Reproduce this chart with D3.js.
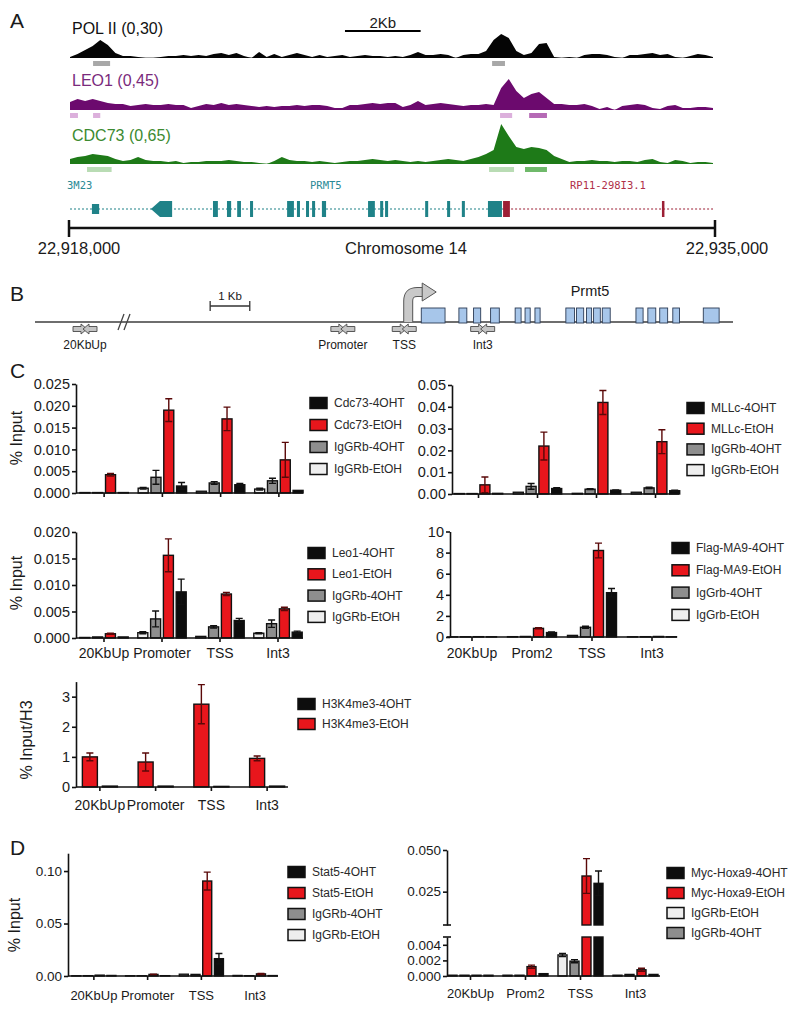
<!DOCTYPE html>
<html>
<head>
<meta charset="utf-8">
<script src="https://cdn.jsdelivr.net/npm/d3@7"></script>
<style>
  body { margin: 0; background: #fff; }
  text { font-family: "Liberation Sans", Arial, sans-serif; fill: #1a1a1a; }
  .mono { font-family: "DejaVu Sans Mono", monospace; }
  .narrow { font-family: "Liberation Sans Narrow", "Liberation Sans", sans-serif; }
</style>
</head>
<body>
<svg id="fig" width="800" height="1012"></svg>
<script>
// ---- A: ChIP-seq tracks, 200 bp bins over chr14:22,918,000-22,935,000
const winStart = 22918000
const winEnd = 22935000
const binBp = 200
const polII = [1,4,8,12,18,13,5,2,2,1, 0,0,1,2,2,3,2,3,2,4, 5,3,5,2,0,6,1,4,1,3,
  5,3,1,3,1,2,3,1,2,3, 2,2,1,2,1,3,6,3,3,4, 3,0,3,4,4,7,18,24,20,7,
  3,5,14,15,1,0,1,0,3,4, 4,3,1,0,3,3,4,5,3,4, 1,0,2,4,3,1]
const leo1 = [8,11,9,11,9,7,6,6,4,5, 6,5,5,6,5,5,2,4,6,5, 7,5,6,5,4,3,4,3,4,4,
  5,4,5,5,4,2,2,5,5,6, 7,6,7,7,3,5,9,5,6,7, 6,5,4,5,5,6,5,22,31,19,
  12,16,18,12,6,6,5,5,6,4, 1,3,0,4,5,6,5,2,1,4, 5,2,2,3,3,2]
const cdc73 = [5,7,8,10,9,8,5,3,4,7, 4,3,3,2,3,1,2,2,3,3, 3,4,3,2,2,1,0,3,7,4,
  3,3,2,3,2,1,2,3,3,4, 5,4,3,4,3,2,3,2,3,4, 5,4,3,5,7,10,14,40,28,17,
  15,17,16,14,8,5,2,3,3,4, 3,3,2,3,3,2,4,5,2,1, 4,3,1,2,2,1]
// called peaks: [start, end, strong]
const polIIPeaks = [[22918610, 22919060, 0], [22929160, 22929500, 0]]
const leo1Peaks = [[22918000, 22918210, 0], [22918610, 22918800, 0], [22929370, 22929690, 0], [22930140, 22930610, 1]]
const cdc73Peaks = [[22918450, 22919100, 0], [22929080, 22929740, 0], [22930030, 22930610, 1]]
// gene models: [start, end, kind]  u = utr, c = coding, a = arrow end
const prmt5Exons = [[22918580, 22918770, 'u'], [22920140, 22920700, 'a'],
  [22921780, 22921910, 'c'], [22922150, 22922260, 'c'], [22922420, 22922520, 'c'], [22922760, 22922840, 'c'],
  [22923740, 22923920, 'c'], [22924000, 22924080, 'c'], [22924240, 22924320, 'c'], [22924400, 22924480, 'c'],
  [22924660, 22924770, 'c'], [22925880, 22926060, 'c'], [22926200, 22926280, 'c'], [22926330, 22926410, 'c'],
  [22927390, 22927470, 'c'], [22927970, 22928050, 'c'], [22928360, 22928440, 'c'], [22929050, 22929420, 'c']]
const rp11Exons = [[22929450, 22929630, 'c'], [22933650, 22933700, 'c']]
const prmt5End = 22929450

// ---- B: primer map, kb from the Prmt5 TSS
const primerSites = ['20KbUp', 'Promoter', 'TSS', 'Int3']
const primerKb = [-20, -1.65, -0.1, 1.88]
const schemeExons = [[0.33, 0.93], [1.28, 1.48], [1.65, 1.83], [2.08, 2.3], [2.7, 2.85], [2.95, 3.08],
  [3.2, 3.33], [3.98, 4.2], [4.25, 4.43], [4.5, 4.63], [4.68, 4.85], [4.9, 5.1], [5.75, 5.93],
  [6.05, 6.25], [6.35, 6.55], [6.68, 6.85], [7.45, 7.85]]

// ---- C / D: ChIP-qPCR
const sites = ['20KbUp', 'Promoter', 'TSS', 'Int3']
const sites2 = ['20KbUp', 'Prom2', 'TSS', 'Int3']

const cdc73Names = ['Cdc73-4OHT', 'Cdc73-EtOH', 'IgGRb-4OHT', 'IgGRb-EtOH']
const cdc73Means = [[0.0001, 0.0016, 0.0019, 0.0006], [0.0042, 0.019, 0.017, 0.0076],
  [0.0001, 0.0036, 0.0023, 0.0028], [0.0001, 0.0011, 0.0004, 0.0009]]
const cdc73Errs = [[0, 0.0008, 0.0003, 0], [0.0003, 0.0026, 0.0027, 0.004],
  [0, 0.0016, 0.0003, 0.0006], [0, 0.0002, 0, 0.0002]]

const mllNames = ['MLLc-4OHT', 'MLLc-EtOH', 'IgGRb-4OHT', 'IgGRb-EtOH']
const mllMeans = [[0.0003, 0.0025, 0.0017, 0.0015], [0.0042, 0.022, 0.042, 0.024],
  [0.0002, 0.0035, 0.0022, 0.0028], [0.0002, 0.0008, 0.0003, 0.0008]]
const mllErrs = [[0, 0.0004, 0.0002, 0.0003], [0.0036, 0.0064, 0.0055, 0.0055],
  [0, 0.0013, 0.0002, 0.0003], [0, 0, 0, 0]]

const leo1Names = ['Leo1-4OHT', 'Leo1-EtOH', 'IgGRb-4OHT', 'IgGRb-EtOH']
const leo1Means = [[0.0002, 0.0087, 0.0033, 0.0011], [0.0008, 0.0156, 0.0083, 0.0055],
  [0.0002, 0.0036, 0.0021, 0.0027], [0.0001, 0.001, 0.0003, 0.0009]]
const leo1Errs = [[0, 0.0024, 0.0004, 0.0002], [0.0001, 0.0031, 0.0003, 0.0003],
  [0, 0.0015, 0.0002, 0.0007], [0, 0.0002, 0, 0.0001]]

const flagNames = ['Flag-MA9-4OHT', 'Flag-MA9-EtOH', 'IgGrb-4OHT', 'IgGrb-EtOH']
const flagMeans = [[0.02, 0.42, 4.2, 0.02], [0.03, 0.82, 8.2, 0.05],
  [0.02, 0.05, 0.92, 0.03], [0.01, 0.03, 0.15, 0.02]]
const flagErrs = [[0, 0.05, 0.4, 0], [0, 0.05, 0.7, 0], [0, 0, 0.1, 0], [0, 0, 0, 0]]

const h3Names = ['H3K4me3-4OHT', 'H3K4me3-EtOH']
const h3Means = [[0.03, 0.03, 0.02, 0.03], [1.0, 0.83, 2.75, 0.95]]
const h3Errs = [[0, 0, 0, 0], [0.13, 0.3, 0.65, 0.08]]

const stat5Names = ['Stat5-4OHT', 'Stat5-EtOH', 'IgGRb-4OHT', 'IgGRb-EtOH']
const stat5Means = [[0.0005, 0.0003, 0.0165, 0.0004], [0.0008, 0.0015, 0.0905, 0.002],
  [0.0003, 0.0002, 0.0015, 0.0003], [0.0002, 0.0002, 0.0017, 0.0005]]
const stat5Errs = [[0, 0, 0.005, 0], [0, 0.0003, 0.0085, 0.0004], [0, 0, 0, 0], [0, 0, 0, 0]]

const hoxNames = ['Myc-Hoxa9-4OHT', 'Myc-Hoxa9-EtOH', 'IgGRb-EtOH', 'IgGRb-4OHT']
const hoxMeans = [[0.0001, 0.0003, 0.03, 0.0002], [0.0001, 0.0012, 0.0344, 0.0008],
  [0.0001, 0.0001, 0.0027, 0.0001], [0.0001, 0.0001, 0.0019, 0.0002]]
const hoxErrs = [[0, 0, 0.0074, 0], [0, 0.0002, 0.0104, 0.0002], [0, 0, 0.0002, 0], [0, 0, 0.0002, 0]]

const svg = d3.select('#fig')

const letter = (t, x, y) => svg.append('text').attr('x', x).attr('y', y)
  .attr('font-size', 21).text(t)

// ================= panel A =================
letter('A', 10, 28)
const gx = d3.scaleLinear().domain([winStart, winEnd]).range([70, 713])

const tracks = [
  { label: 'POL II (0,30)', vals: polII, max: 30, base: 58, color: '#050505', text: '#111', ly: 34,
    peaks: polIIPeaks, pcol: ['#a8a8a8', '#a8a8a8'], py: 61 },
  { label: 'LEO1 (0,45)', vals: leo1, max: 45, base: 110, color: '#6c0a6e', text: '#7a2a7c', ly: 86,
    peaks: leo1Peaks, pcol: ['#dcb0dc', '#b56ab5'], py: 113 },
  { label: 'CDC73 (0,65)', vals: cdc73, max: 65, base: 164, color: '#1e7a18', text: '#3c8a30', ly: 141,
    peaks: cdc73Peaks, pcol: ['#b9dcb4', '#6fb96a'], py: 167 }
]

tracks.forEach(t => {
  const y = d3.scaleLinear().domain([0, t.max]).range([t.base, t.base - t.max])
  const area = d3.area()
    .x((d, i) => gx(winStart + i * binBp))
    .y0(t.base)
    .y1(d => y(d))
  svg.append('line').attr('x1', gx(winStart)).attr('x2', gx(winEnd))
    .attr('y1', t.base - 0.5).attr('y2', t.base - 0.5)
    .attr('stroke', t.color).attr('stroke-opacity', 0.35)
  svg.append('path').datum(t.vals).attr('d', area).attr('fill', t.color)
  svg.append('text').attr('x', 72).attr('y', t.ly).attr('font-size', 16)
    .style('fill', t.text).text(t.label)
  svg.selectAll(null).data(t.peaks).join('rect')
    .attr('x', d => gx(d[0])).attr('width', d => gx(d[1]) - gx(d[0]))
    .attr('y', t.py).attr('height', 5)
    .attr('fill', d => t.pcol[d[2]])
})

// 2 Kb scale
const sb = 22925270
svg.append('line').attr('x1', gx(sb)).attr('x2', gx(sb + 2000)).attr('y1', 31).attr('y2', 31)
  .attr('stroke', '#000').attr('stroke-width', 2)
svg.append('text').attr('x', (gx(sb) + gx(sb + 2000)) / 2).attr('y', 28).attr('text-anchor', 'middle')
  .attr('font-size', 15).text('2Kb')

// gene models
const geneY = 209
const teal = '#1f8288'
const wine = '#9c1f35'
svg.append('line').attr('x1', gx(winStart)).attr('x2', gx(prmt5End)).attr('y1', geneY).attr('y2', geneY)
  .attr('stroke', teal).attr('stroke-width', 1.2).attr('stroke-dasharray', '2,2')
svg.append('line').attr('x1', gx(prmt5End)).attr('x2', gx(winEnd)).attr('y1', geneY).attr('y2', geneY)
  .attr('stroke', wine).attr('stroke-width', 1.2).attr('stroke-dasharray', '2,2')

const exonH = { u: 10, c: 16, a: 16 }
function exons(list, color) {
  list.forEach(([s, e, k]) => {
    const x0 = gx(s), x1 = gx(e), h = exonH[k]
    if (k === 'a') {
      svg.append('path')
        .attr('d', `M${x0},${geneY}L${x0 + 9},${geneY - h / 2}H${x1}V${geneY + h / 2}H${x0 + 9}Z`)
        .attr('fill', color)
    } else {
      svg.append('rect').attr('x', x0).attr('width', Math.max(2.5, x1 - x0))
        .attr('y', geneY - h / 2).attr('height', h).attr('fill', color)
    }
  })
}
exons(prmt5Exons, teal)
exons(rp11Exons, wine)

svg.append('text').attr('class', 'mono').attr('x', 67).attr('y', 189).attr('font-size', 10.5)
  .style('fill', '#2a8a96').text('3M23')
svg.append('text').attr('class', 'mono').attr('x', 310).attr('y', 189).attr('font-size', 10.5)
  .style('fill', '#2a8a96').text('PRMT5')
svg.append('text').attr('class', 'mono').attr('x', 570).attr('y', 189).attr('font-size', 10.5)
  .style('fill', '#b03048').text('RP11-298I3.1')

// chromosome ruler
const ruler = svg.append('g')
ruler.append('line').attr('x1', gx(winStart) - 1).attr('x2', gx(winEnd) + 2).attr('y1', 228).attr('y2', 228)
  .attr('stroke', '#111').attr('stroke-width', 2.5)
;[winStart, winEnd].forEach((p, i) => {
  const xx = gx(p) + (i ? 2 : -1)
  ruler.append('line').attr('x1', xx).attr('x2', xx).attr('y1', 220).attr('y2', 237)
    .attr('stroke', '#111').attr('stroke-width', 2.5)
  ruler.append('text').attr('x', i ? xx + 12 : xx + 10).attr('y', 254).attr('text-anchor', 'middle')
    .attr('font-size', 16.5).text(d3.format(',')(p))
})
ruler.append('text').attr('x', 406).attr('y', 254).attr('text-anchor', 'middle')
  .attr('font-size', 16.5).text('Chromosome 14')

// ================= panel B =================
letter('B', 10, 301)
const bx = d3.scaleLinear().domain([-21.25, -19, -7.15, 8.2]).range([35, 125, 125, 733])
const bLine = 322
svg.append('line').attr('x1', 35).attr('x2', 733).attr('y1', bLine).attr('y2', bLine)
  .attr('stroke', '#6e6e6e').attr('stroke-width', 2)
// break mark
;[-4, 2].forEach(o => svg.append('line').attr('x1', bx(-19) + o - 3).attr('x2', bx(-19) + o + 3)
  .attr('y1', bLine + 8).attr('y2', bLine - 8).attr('stroke', '#444').attr('stroke-width', 1.3))
// 1 Kb scale
const kb1 = [bx(-5), bx(-4)]
svg.append('line').attr('x1', kb1[0]).attr('x2', kb1[1]).attr('y1', 306).attr('y2', 306).attr('stroke', '#333').attr('stroke-width', 1.3)
kb1.forEach(xx => svg.append('line').attr('x1', xx).attr('x2', xx).attr('y1', 301).attr('y2', 311)
  .attr('stroke', '#333').attr('stroke-width', 1.3))
svg.append('text').attr('class', 'narrow').attr('x', (kb1[0] + kb1[1]) / 2).attr('y', 300)
  .attr('text-anchor', 'middle').attr('font-size', 11.5).text('1 Kb')

// exons
svg.selectAll(null).data(schemeExons).join('rect')
  .attr('x', d => bx(d[0])).attr('width', d => bx(d[1]) - bx(d[0]))
  .attr('y', 308).attr('height', 15)
  .attr('fill', '#a7c6ea').attr('stroke', '#2b3b55').attr('stroke-width', 0.9)
svg.append('text').attr('x', 590).attr('y', 296).attr('text-anchor', 'middle')
  .attr('font-size', 14.5).text('Prmt5')

// TSS arrow
const t0 = bx(0)
const bend = `M${t0},${bLine}V${301}Q${t0},${292} ${t0 + 9},${292}H${t0 + 15}`
svg.append('path').attr('d', bend).attr('fill', 'none').attr('stroke', '#555').attr('stroke-width', 10)
svg.append('path').attr('d', bend).attr('fill', 'none').attr('stroke', '#c9c9c9').attr('stroke-width', 8)
svg.append('path').attr('d', `M${t0 + 14},${283}L${t0 + 28},${292}L${t0 + 14},${301}Z`)
  .attr('fill', '#c9c9c9').attr('stroke', '#555').attr('stroke-width', 1)

// primer pairs
const primer = svg.append('g')
primerKb.forEach((k, i) => {
  const c = bx(k), y = 329
  const fwd = `M${c - 12},${y - 2.5}H${c - 4}V${y - 5}L${c + 2},${y}L${c - 4},${y + 5}V${y + 2.5}H${c - 12}Z`
  const rev = `M${c + 12},${y - 2.5}H${c + 4}V${y - 5}L${c - 2},${y}L${c + 4},${y + 5}V${y + 2.5}H${c + 12}Z`
  ;[fwd, rev].forEach(d => primer.append('path').attr('d', d)
    .attr('fill', '#c4c4c4').attr('stroke', '#4a4a4a').attr('stroke-width', 0.9))
  primer.append('text').attr('class', 'narrow').attr('x', c).attr('y', 349)
    .attr('text-anchor', 'middle').attr('font-size', 12).text(primerSites[i])
})

// ================= panels C / D =================
letter('C', 10, 378)
letter('D', 10, 855)

const fills = { k: '#0d0d0d', r: '#e8161c', g: '#8e8e8e', w: '#eeeeee' }

function styleAxis(sel, fs) {
  sel.selectAll('path, line').attr('stroke', '#111').attr('stroke-width', 1.6)
  sel.selectAll('text').attr('font-size', fs).style('fill', '#1a1a1a')
}

function barChart(c) {
  const g = svg.append('g')
  const x = d3.scaleBand().domain(c.sites).range(c.band)
  const n = c.order.length
  const cx = i => x(c.sites[i]) + x.bandwidth() / 2
  const yv = v => (!c.brk ? c.y(v) : v <= c.brk ? c.yLo(v) : c.yHi(v))
  const pieces = v => {
    if (!c.brk) return [[c.y(v), c.y(0)]]
    const p = [[c.yLo(Math.min(v, c.brk)), c.yLo(0)]]
    if (v > c.brk) p.push([c.yHi(v), c.yHi(c.brk)])
    return p
  }
  const base = c.brk ? c.yLo(0) : c.y(0)

  // bars
  const bars = c.order.flatMap((s, j) => c.means[s].map((v, i) => ({
    v, e: c.errs[s][i], k: c.kinds[s], x: cx(i) + (j - (n - 1) / 2) * c.step
  })))
  bars.forEach(b => pieces(b.v).forEach(([y0, y1]) => {
    g.append('rect').attr('x', b.x - c.barW / 2).attr('width', c.barW)
      .attr('y', y0).attr('height', Math.max(0, y1 - y0))
      .attr('fill', fills[b.k]).attr('stroke', '#111').attr('stroke-width', 1.4)
  }))
  // error bars
  g.selectAll(null).data(bars.filter(b => b.e > 0)).join('path')
    .attr('d', b => {
      const hi = yv(b.v + b.e), lo = yv(Math.max(0, b.v - b.e))
      return `M${b.x},${lo}V${hi}M${b.x - 3.5},${hi}H${b.x + 3.5}M${b.x - 3.5},${lo}H${b.x + 3.5}`
    })
    .attr('stroke', b => (b.k === 'r' ? '#5a0808' : '#111')).attr('stroke-width', 1.4).attr('fill', 'none')

  // y axis
  if (!c.brk) {
    const ya = g.append('g').attr('transform', `translate(${c.left},0)`)
      .call(d3.axisLeft(c.y).tickValues(c.ticks).tickFormat(d3.format(c.fmt))
        .tickSize(4).tickPadding(2).tickSizeOuter(0))
    styleAxis(ya, c.tickFs)
  } else {
    [[c.yLo, c.ticksLo], [c.yHi, c.ticksHi]].forEach(([sc, tv]) => {
      const ya = g.append('g').attr('transform', `translate(${c.left},0)`)
        .call(d3.axisLeft(sc).tickValues(tv).tickFormat(d3.format(c.fmt))
          .tickSize(4).tickPadding(2).tickSizeOuter(0))
      styleAxis(ya, c.tickFs)
    })
    ;[c.yHi(c.brk), c.yLo(c.brk)].forEach(yy => g.append('line')
      .attr('x1', c.left - 4).attr('x2', c.left + 4).attr('y1', yy).attr('y2', yy)
      .attr('stroke', '#111').attr('stroke-width', 1.6))
  }

  // x axis
  const xa = g.append('g').attr('transform', `translate(0,${base})`)
    .call(d3.axisBottom(x).tickSize(4).tickSizeOuter(0).tickFormat(c.cats ? null : () => ''))
  xa.select('.domain').attr('d', `M${c.left},0H${c.right}`)
  styleAxis(xa, c.catFs)
  xa.selectAll('text').attr('y', c.catDy).attr('dy', 0)

  // legend
  const lg = g.append('g')
  c.names.forEach((name, i) => {
    const yy = c.legY + i * c.legGap
    lg.append('rect').attr('x', c.legX).attr('y', yy - 5.5).attr('width', 17).attr('height', 11)
      .attr('fill', fills[c.kinds[i]]).attr('stroke', '#111').attr('stroke-width', 1.5)
    lg.append('text').attr('x', c.legX + 24).attr('y', yy + 4).attr('font-size', 12)
      .style('fill', '#2a2a2a').text(name)
  })

  if (c.ylab) {
    g.append('text').attr('transform', `translate(${c.ylabX},${c.ylabY}) rotate(-90)`)
      .attr('text-anchor', 'middle').attr('font-size', 16).text(c.ylab)
  }
}

const q4 = ['k', 'r', 'g', 'w']

barChart({ sites, names: cdc73Names, means: cdc73Means, errs: cdc73Errs, kinds: q4, order: [3, 2, 1, 0],
  band: [75, 308], left: 76, right: 303, y: d3.scaleLinear().domain([0, 0.025]).range([493, 384]),
  ticks: [0, 0.005, 0.01, 0.015, 0.02, 0.025], fmt: '.3f', tickFs: 14.5, barW: 10, step: 12.8,
  cats: false, catFs: 14, catDy: 20, legX: 310, legY: 403, legGap: 22,
  ylab: '% Input', ylabX: 22, ylabY: 438 })

barChart({ sites, names: mllNames, means: mllMeans, errs: mllErrs, kinds: q4, order: [3, 2, 1, 0],
  band: [449, 685], left: 452, right: 679, y: d3.scaleLinear().domain([0, 0.05]).range([494, 385]),
  ticks: [0, 0.01, 0.02, 0.03, 0.04, 0.05], fmt: '.2f', tickFs: 14.5, barW: 10, step: 12.8,
  cats: false, catFs: 14, catDy: 20, legX: 687, legY: 408, legGap: 20.7 })

barChart({ sites, names: leo1Names, means: leo1Means, errs: leo1Errs, kinds: q4, order: [3, 2, 1, 0],
  band: [75, 307], left: 76, right: 303, y: d3.scaleLinear().domain([0, 0.02]).range([638, 532]),
  ticks: [0, 0.005, 0.01, 0.015, 0.02], fmt: '.3f', tickFs: 14.5, barW: 10, step: 12.8,
  cats: true, catFs: 14, catDy: 20, legX: 308, legY: 553, legGap: 21.3,
  ylab: '% Input', ylabX: 22, ylabY: 583 })

barChart({ sites: sites2, names: flagNames, means: flagMeans, errs: flagErrs, kinds: q4, order: [3, 2, 1, 0],
  band: [442, 682], left: 450, right: 677, y: d3.scaleLinear().domain([0, 10]).range([637, 531.5]),
  ticks: [0, 2, 4, 6, 8, 10], fmt: 'd', tickFs: 14.5, barW: 10, step: 13,
  cats: true, catFs: 14, catDy: 21, legX: 672, legY: 548, legGap: 22.3 })

barChart({ sites, names: h3Names, means: h3Means, errs: h3Errs, kinds: ['k', 'r'], order: [1, 0],
  band: [72, 295], left: 76, right: 288, y: d3.scaleLinear().domain([0, 3.5]).range([787, 681.6]),
  ticks: [0, 1, 2, 3], fmt: 'd', tickFs: 14.5, barW: 15, step: 20,
  cats: true, catFs: 14, catDy: 23, legX: 298, legY: 704, legGap: 20,
  ylab: '% Input/H3', ylabX: 32, ylabY: 740 })

barChart({ sites, names: stat5Names, means: stat5Means, errs: stat5Errs, kinds: q4, order: [3, 2, 1, 0],
  band: [67, 282], left: 68, right: 278, y: d3.scaleLinear().domain([0, 0.117]).range([976, 853.2]),
  ticks: [0, 0.05, 0.1], fmt: '.2f', tickFs: 13.5, barW: 9, step: 11.7,
  cats: true, catFs: 13, catDy: 24, legX: 288, legY: 872, legGap: 21,
  ylab: '% Input', ylabX: 20, ylabY: 925 })

barChart({ sites: sites2, names: hoxNames, means: hoxMeans, errs: hoxErrs, kinds: ['k', 'r', 'w', 'g'], order: [2, 3, 1, 0],
  band: [443, 663], left: 447, right: 660, brk: 0.005,
  yLo: d3.scaleLinear().domain([0, 0.005]).range([976, 937]),
  yHi: d3.scaleLinear().domain([0.005, 0.05]).range([925, 850]),
  ticksLo: [0, 0.002, 0.004], ticksHi: [0.025, 0.05], fmt: '.3f', tickFs: 13.5, barW: 9, step: 12,
  cats: true, catFs: 13, catDy: 22, legX: 667, legY: 873, legGap: 20 })
</script>
</body>
</html>
